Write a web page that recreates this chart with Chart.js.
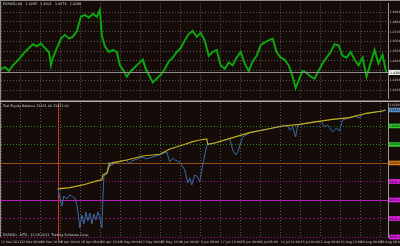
<!DOCTYPE html>
<html>
<head>
<meta charset="utf-8">
<script src="https://cdn.jsdelivr.net/npm/chart.js@4.4.1/dist/chart.umd.min.js"></script>
<style>
  html, body { margin: 0; padding: 0; background: #150c0a; }
  #wrap { position: relative; width: 400px; height: 246px; overflow: hidden; }
  #top { position: absolute; left: 0; top: 0; width: 400px; height: 102px; }
  #bot { position: absolute; left: 0; top: 102px; width: 400px; height: 144px; }
</style>
</head>
<body>
<div id="wrap">
  <canvas id="top" width="400" height="102"></canvas>
  <canvas id="bot" width="400" height="144"></canvas>
</div>
<script>
// ---- data (x = days since 11 Mar 2011) ----
const priceDays = [0,1.6,3.2,4.8,6.4,8,9.6,11.2,12.8,14.4,16,17.6,19.2,20,20.8,22.4,24,25.6,27.2,28.8,30.4,32,33.6,35.2,36.8,38.4,39.6,40.4,41.6,43.2,44.8,46.4,47.6,49.2,50.4,52,53.6,55.2,56.8,58,59.2,60.8,62.4,64,65.6,67.2,68.8,70.4,72,73.6,75.2,76.8,78.4,80,81.6,83.2,84.8,86.4,88,89.6,91.2,92.8,94.4,96,97.6,99.2,100.8,102.4,104,105.6,107.2,108.8,110.4,112,113.6,115.2,116.8,118,119.2,120.8,122.4,124,125.6,127.2,128.8,130.4,132,133.6,135.2,136.8,138.4,140,141.6,143.2,144.8,146.4,148,149.6,151.2,152.8,154,154.4];
const priceClose = [1.4317,1.4336,1.4297,1.4356,1.4395,1.4444,1.4492,1.4532,1.4571,1.4551,1.4580,1.4532,1.4492,1.4356,1.4434,1.4532,1.4629,1.4668,1.4629,1.4649,1.4707,1.4854,1.4873,1.4844,1.4883,1.4854,1.4922,1.4658,1.4551,1.4492,1.4512,1.4492,1.4356,1.4297,1.4239,1.4297,1.4336,1.4375,1.4414,1.4317,1.4258,1.4180,1.4219,1.4258,1.4317,1.4395,1.4434,1.4492,1.4532,1.4610,1.4678,1.4707,1.4649,1.4688,1.4610,1.4453,1.4492,1.4512,1.4356,1.4317,1.4385,1.4356,1.4434,1.4492,1.4375,1.4297,1.4395,1.4453,1.4561,1.4590,1.4610,1.4629,1.4492,1.4434,1.4414,1.4356,1.4239,1.4122,1.4200,1.4297,1.4278,1.4239,1.4219,1.4297,1.4375,1.4434,1.4492,1.4571,1.4561,1.4453,1.4434,1.4492,1.4414,1.4356,1.4434,1.4239,1.4375,1.4512,1.4375,1.4463,1.4317,1.4288];
const priceTicks = [1.41,1.42,1.43,1.44,1.45,1.46,1.47,1.48,1.49];
const lastPrice = 1.4288;

const balDays = [22.8,27.6,32.8,38.4,40.4,40.8,42.4,43.6,44.8,50.4,56.8,63.6,67.6,72.8,76.8,79.6,82.4,82.8,85.6,92.8,99.6,106.4,112.8,119.6,126.4,132.8,139.6,146.4,152.8,154];
const balValues = [9298,9333,9406,9514,9541,9676,9730,9973,10008,10081,10189,10235,10378,10486,10575,10621,10648,10505,10540,10683,10818,10910,10999,11045,11115,11180,11223,11342,11404,11431];

const eqDays = [22.8,23.6,24.4,25.2,26.4,27.6,28.8,29.6,30.4,30.8,31.6,32.4,33.2,34,34.8,35.6,36.4,37.2,38,38.8,39.6,40.4,40.8,41.2,42.4,43.2,44,45.6,50.4,51.2,52.4,56.8,58,63.6,66.4,67.6,68.8,69.6,71.6,73.6,74.8,75.6,76.4,77.6,78.8,79.6,80.8,81.6,82.4,82.8,85.6,91.6,92.8,94,94.8,95.6,96.8,99.6,106.4,112.8,114.8,115.6,116.8,118,118.8,119.6,126.4,128.4,129.6,130.8,132.8,134.4,135.6,136.8,139.6,141.6,143.6,144.4,146.4,152.8,154];
const eqValues = [9298,9055,8839,9109,9028,9136,9082,9055,8866,8677,8245,8596,8353,8677,8434,8650,8353,8623,8461,8677,8515,8245,9001,9649,9703,10027,9919,10000,10081,9973,10054,10162,10108,10216,10297,10027,10135,10081,10027,9811,9460,9595,9406,9676,9622,9487,9946,10216,10459,10505,10540,10662,10351,10216,10297,10459,10702,10818,10910,10999,10999,10891,10972,10702,10999,11045,11115,11107,10972,11026,10837,10945,10864,11161,11223,11269,11215,11296,11342,11404,11431];

const levelValues = [11000,10500,10000,9500,9000,8500,8000];
const testStartDay = 22.8;

const tickDays = [0,8,16,24,32,40,48,56,64,72,80,88,96,104,112,120,128,136,144,152];
const timeLabels = ['11 Mar 2011','22 Mar 08:00','30 Mar 16:00','8 Apr 00:00','18 Apr 08:00','26 Apr 16:00','5 May 00:00','13 May 08:00','23 May 16:00','1 Jun 00:00','9 Jun 08:00','17 Jun 16:00','28 Jun 00:00','6 Jul 08:00','14 Jul 16:00','25 Jul 00:00','2 Aug 08:00','10 Aug 16:00','19 Aug 00:00','29 Aug 08:00'];

// ---- styles ----
const GRID = '#5c5656';
const TXT = '#c8c8c8';
const FONT = '"DejaVu Sans"';
const levelLine = ['#1f8c1f','#1f8c1f','#95500f','#a012a0','#b81cb8','#7c127c','#a012a0'];
const levelDash = [[1,2],[1,2],[],[1,2],[],[2,2],[1,2]];
const levelBox  = ['#30c830','#30c830','#e07a12','#e820e8','#e820e8','#e820e8','#e820e8'];

const fmtEq = v => v.toFixed(2);

const topDeco = {
  id: 'topDeco',
  afterDatasetsDraw(chart) {
    const { ctx, chartArea: a, scales: { y } } = chart;
    const py = Math.round(y.getPixelForValue(lastPrice)) + 0.5;
    ctx.save();
    ctx.strokeStyle = '#8e8e8e'; ctx.lineWidth = 1;
    ctx.beginPath(); ctx.moveTo(a.left, py); ctx.lineTo(a.right, py); ctx.stroke();
    ctx.fillStyle = '#ececec'; ctx.fillRect(a.right + 1, py - 2.5, 12, 5);
    ctx.fillStyle = '#000'; ctx.font = '3.2px ' + FONT; ctx.textBaseline = 'middle';
    ctx.fillText(lastPrice.toFixed(4), a.right + 2, py + 0.2);
    // frame + separator
    ctx.strokeStyle = '#8a8a8a';
    ctx.beginPath();
    ctx.moveTo(0, 0.5); ctx.lineTo(chart.width, 0.5);
    ctx.moveTo(0.5, 0); ctx.lineTo(0.5, chart.height);
    ctx.stroke();
    ctx.fillStyle = '#b4b4b4'; ctx.fillRect(0, chart.height - 1.5, chart.width, 1.5);
    ctx.fillStyle = '#d4d4d4'; ctx.font = '3.3px ' + FONT;
    ctx.fillText('EURUSD,H4   1.4285   1.4301   1.4279   1.4288', 3, 4.5);
    ctx.restore();
  }
};

const botDeco = {
  id: 'botDeco',
  beforeDatasetsDraw(chart) {
    const { ctx, chartArea: a, scales: { x, y } } = chart;
    ctx.save();
    ctx.lineWidth = 1;
    levelValues.forEach((v, i) => {
      const py = Math.round(y.getPixelForValue(v)) + 0.5;
      ctx.strokeStyle = levelLine[i]; ctx.setLineDash(levelDash[i]);
      ctx.beginPath(); ctx.moveTo(a.left, py); ctx.lineTo(a.right, py); ctx.stroke();
    });
    ctx.setLineDash([]);
    const sx = Math.round(x.getPixelForValue(testStartDay)) + 0.5;
    ctx.strokeStyle = '#c8321e';
    ctx.beginPath(); ctx.moveTo(sx, a.top); ctx.lineTo(sx, a.bottom + 5); ctx.stroke();
    ctx.restore();
  },
  afterDraw(chart) {
    const { ctx, chartArea: a, scales: { y } } = chart;
    ctx.save();
    ctx.font = '3.2px ' + FONT; ctx.textBaseline = 'middle';
    const box = (v, col) => {
      const py = y.getPixelForValue(v);
      ctx.fillStyle = col; ctx.fillRect(a.right + 1, py - 2.3, 12, 4.6);
      ctx.fillStyle = '#000'; ctx.fillText(fmtEq(v), a.right + 1.5, py + 0.2);
    };
    levelValues.forEach((v, i) => box(v, levelBox[i]));
    box(eqValues[eqValues.length - 1], '#5a8cc4');
    ctx.fillStyle = TXT;
    ctx.fillText(fmtEq(y.max), a.right + 1.5, a.top + 2.5);
    ctx.strokeStyle = '#8a8a8a'; ctx.lineWidth = 1;
    ctx.beginPath(); ctx.moveTo(0.5, 0); ctx.lineTo(0.5, a.bottom); ctx.stroke();
    ctx.fillStyle = '#d4d4d4'; ctx.font = '3.3px ' + FONT;
    const last = balValues[balValues.length - 1];
    ctx.fillText('Test Equity Balance ' + fmtEq(last) + ' ' + fmtEq(last), 3, a.top + 3.5);
    ctx.fillText('EURUSD - MT4 - 12.08.2011  Trading Software Corp.', 3, a.bottom - 1.5);
    ctx.restore();
  }
};

const xBase = {
  type: 'linear', min: 0, max: 155,
  afterBuildTicks: ax => { ax.ticks = tickDays.map(v => ({ value: v })); },
  grid: { color: GRID, drawTicks: false },
  border: { display: false, dash: [1, 2] }
};

new Chart(document.getElementById('top'), {
  type: 'line',
  data: {
    datasets: [{
      data: priceDays.map((d, i) => ({ x: d, y: priceClose[i] })),
      borderColor: '#0ea40e', borderWidth: 2, pointRadius: 0, tension: 0
    }]
  },
  options: {
    responsive: false, animation: false,
    layout: { padding: { left: 1, top: 1, bottom: 1, right: 0 } },
    plugins: { legend: { display: false }, tooltip: { enabled: false } },
    scales: {
      x: { ...xBase, ticks: { display: false },
        afterFit: ax => { ax.height = 0; ax.paddingLeft = 0; ax.paddingRight = 0; } },
      y: {
        position: 'right', min: 1.4014, max: 1.4990,
        afterBuildTicks: ax => { ax.ticks = priceTicks.map(v => ({ value: v })); },
        afterFit: ax => { ax.width = 12; },
        grid: { color: GRID, drawTicks: false },
        border: { display: true, color: '#9a9a9a', dash: [1, 2] },
        ticks: { color: TXT, font: { family: FONT, size: 3.2 }, padding: 1.5, callback: v => v.toFixed(4) }
      }
    }
  },
  plugins: [topDeco]
});

new Chart(document.getElementById('bot'), {
  type: 'line',
  data: {
    datasets: [
      { label: 'Balance', data: balDays.map((d, i) => ({ x: d, y: balValues[i] })),
        borderColor: '#c4ae1e', borderWidth: 1.2, pointRadius: 0, tension: 0 },
      { label: 'Equity', data: eqDays.map((d, i) => ({ x: d, y: eqValues[i] })),
        borderColor: '#3a6ca6', borderWidth: 1, pointRadius: 0, tension: 0 }
    ]
  },
  options: {
    responsive: false, animation: false,
    layout: { padding: { left: 1, top: 1, bottom: 0, right: 0 } },
    plugins: { legend: { display: false }, tooltip: { enabled: false } },
    scales: {
      x: { ...xBase,
        afterFit: ax => { ax.height = 9; ax.paddingLeft = 0; ax.paddingRight = 0; },
        ticks: { color: TXT, font: { family: FONT, size: 3.2 }, align: 'start', padding: 3,
          maxRotation: 0, autoSkip: false, callback: (v, i) => timeLabels[i] } },
      y: {
        position: 'right', min: 8000, max: 11620,
        afterFit: ax => { ax.width = 12; },
        grid: { display: false },
        border: { display: true, color: '#9a9a9a' },
        ticks: { display: false }
      }
    }
  },
  plugins: [botDeco]
});
</script>
</body>
</html>
